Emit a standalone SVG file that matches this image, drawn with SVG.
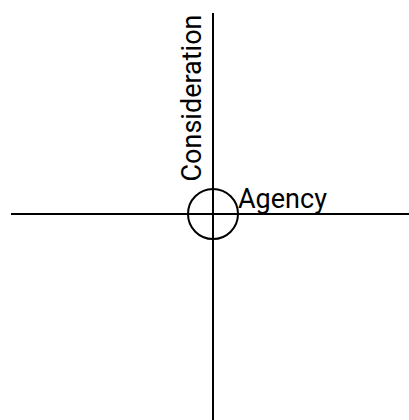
<svg xmlns="http://www.w3.org/2000/svg" width="409" height="420" viewBox="0 0 409 420">
<style>
.ln{stroke:#000;stroke-width:2;fill:none}
.lbl{font-family:Roboto,"Liberation Sans",sans-serif;font-size:27px;fill:#000}
</style>
<rect width="409" height="420" fill="#fff"/>
<g id="connectors">
<line class="ln" x1="213" y1="13" x2="213" y2="420"/>
<line class="ln" x1="11" y1="214" x2="409" y2="214"/>
</g>
<g id="origin">
<circle class="ln" cx="213" cy="214" r="25"/>
</g>
<g id="consideration">
<text class="lbl" text-anchor="middle" transform="translate(201,98) rotate(-90)">Consideration</text>
</g>
<g id="agency">
<text class="lbl" x="238" y="208">Agency</text>
</g>
</svg>
